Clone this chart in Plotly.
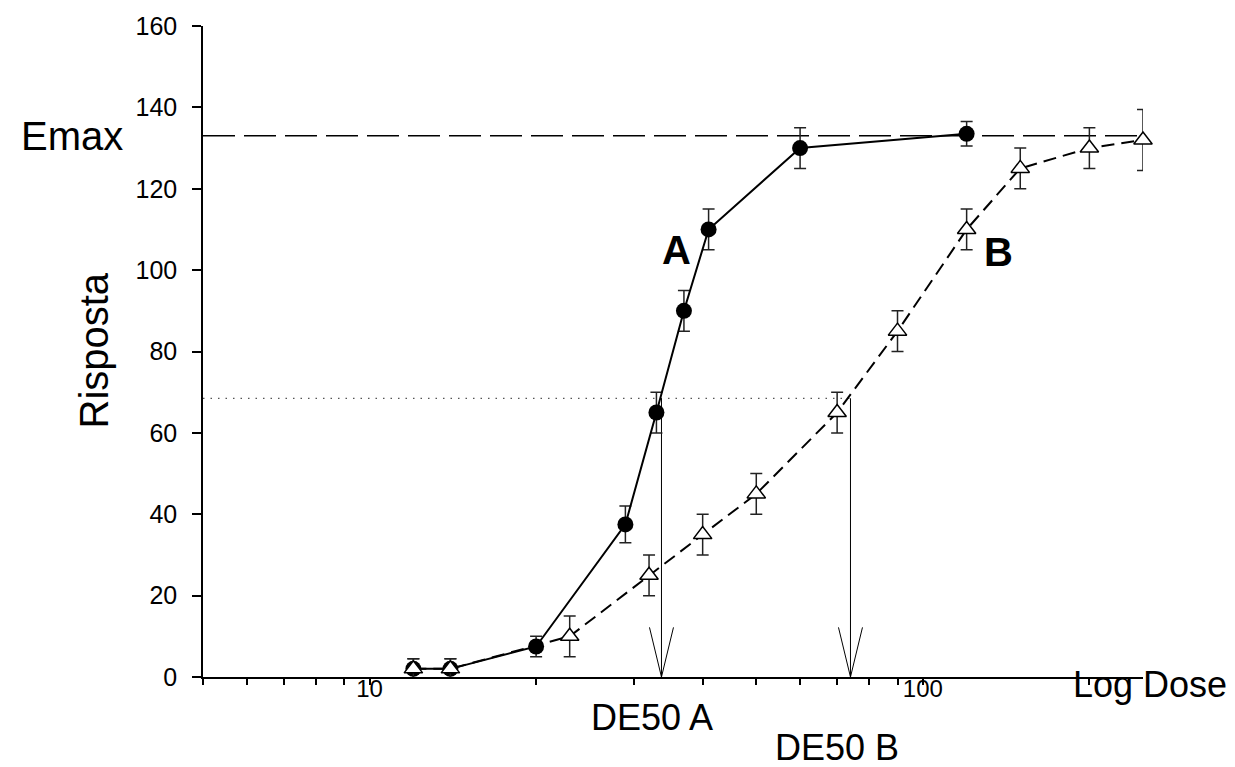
import math
import plotly.graph_objects as go

# ---------------- data ----------------
dose_a = [12, 14, 20, 29, 33, 37, 41, 60, 120]
resp_a = [2, 2, 7.5, 37.5, 65, 90, 110, 130, 133.5]
err_a = [2.5, 2.5, 2.5, 4.5, 5, 5, 5, 5, 3]

dose_b = [12, 14, 23, 32, 40, 50, 70, 90, 120, 150, 200, 250]
resp_b = [2, 2, 10, 25, 35, 45, 65, 85, 110, 125, 130, 132]
err_b = [2.5, 2.5, 5, 5, 5, 5, 5, 5, 5, 5, 5, 7.5]

emax = 133
half_resp = 68.5
de50_a = 33.7
de50_b = 74

x_min, x_max = 5, 250
y_ticks = [0, 20, 40, 60, 80, 100, 120, 140, 160]
x_major = [10, 100]
x_minor = [5, 6, 7, 8, 9, 20, 30, 40, 50, 60, 70, 80, 90, 200]

# ---------------- figure ----------------
FONT = "Liberation Sans, Arial, sans-serif"
W, H = 1235, 767
ML, MR, MT, MB = 203, 92, 19, 90
PW, PH = W - ML - MR, H - MT - MB


def px_x(p):
    return (p - ML) / PW


def px_y(p):
    return (H - MB - p) / PH


fig = go.Figure()

# Emax dashed line
fig.add_trace(go.Scatter(x=[x_min, x_max], y=[emax, emax], mode="lines",
                         line=dict(color="black", width=1.5, dash="32px,9px"),
                         hoverinfo="skip", cliponaxis=False))
# dotted half-response line
fig.add_trace(go.Scatter(x=[x_min, de50_b], y=[half_resp, half_resp], mode="lines",
                         line=dict(color="#555555", width=1.2, dash="1.5px,6px"),
                         hoverinfo="skip"))

# arrows (open V heads)
head_f = 10 ** 0.0217
head_len = 12.2
for d in (de50_a, de50_b):
    fig.add_trace(go.Scatter(
        x=[d, d, None, d / head_f, d, d * head_f],
        y=[half_resp, 0, None, head_len, 0, head_len],
        mode="lines", line=dict(color="black", width=1),
        hoverinfo="skip", cliponaxis=False))

# series A
fig.add_trace(go.Scatter(
    x=dose_a, y=resp_a, mode="lines+markers",
    line=dict(color="black", width=2),
    marker=dict(symbol="circle", size=16, color="black"),
    error_y=dict(type="data", array=err_a, visible=True, color="#222222",
                 thickness=1.5, width=6),
    cliponaxis=False))

# series B
fig.add_trace(go.Scatter(
    x=dose_b, y=resp_b, mode="lines+markers",
    line=dict(color="black", width=2, dash="13px,7px"),
    marker=dict(symbol="triangle-up", size=16, color="white",
                line=dict(color="black", width=1.5)),
    error_y=dict(type="data", array=err_b, visible=True, color="#222222",
                 thickness=1.5, width=6),
    cliponaxis=False))

tickvals = sorted(x_major + x_minor)
ticktext = [str(v) if v in x_major else "" for v in tickvals]

fig.update_layout(
    width=W, height=H,
    margin=dict(l=ML, r=MR, t=MT, b=MB),
    paper_bgcolor="white", plot_bgcolor="white",
    showlegend=False,
    font=dict(family=FONT, color="black"),
    xaxis=dict(type="log", range=[math.log10(x_min), math.log10(x_max)],
               showline=True, linecolor="black", linewidth=1.5,
               ticks="outside", ticklen=6, tickwidth=1.5, tickcolor="black",
               tickvals=tickvals, ticktext=ticktext,
               showgrid=False, zeroline=False, ticklabelstandoff=-17,
               tickfont=dict(size=24, family=FONT, color="black")),
    yaxis=dict(range=[0, 160], tickvals=y_ticks,
               showline=True, linecolor="black", linewidth=1.5,
               ticks="outside", ticklen=9, tickwidth=1.5, tickcolor="black",
               showgrid=False, zeroline=False, ticklabelstandoff=10,
               tickfont=dict(size=25, family=FONT, color="black")),
)

ann = [
    ("Emax", 72, None, 40, 0),
    ("Risposta", 94, 347, 40, -90),
    ("DE50 A", 652, 718, 36, 0),
    ("DE50 B", 837, 748, 36, 0),
    ("Log Dose", 1150, 685, 36, 0),
    ("<b>A</b>", 676, 245, 40, 0),
    ("<b>B</b>", 998, 247, 40, 0),
]
for text, x, y, size, angle in ann:
    if y is None:
        fig.add_annotation(text=text, xref="paper", yref="y", x=px_x(x), y=emax,
                           showarrow=False, xanchor="center", yanchor="middle",
                           font=dict(size=size, family=FONT, color="black"))
    else:
        fig.add_annotation(text=text, xref="paper", yref="paper", x=px_x(x), y=px_y(y),
                           showarrow=False, xanchor="center", yanchor="middle",
                           textangle=angle,
                           font=dict(size=size, family=FONT, color="black"))

fig.write_html("out.html")
